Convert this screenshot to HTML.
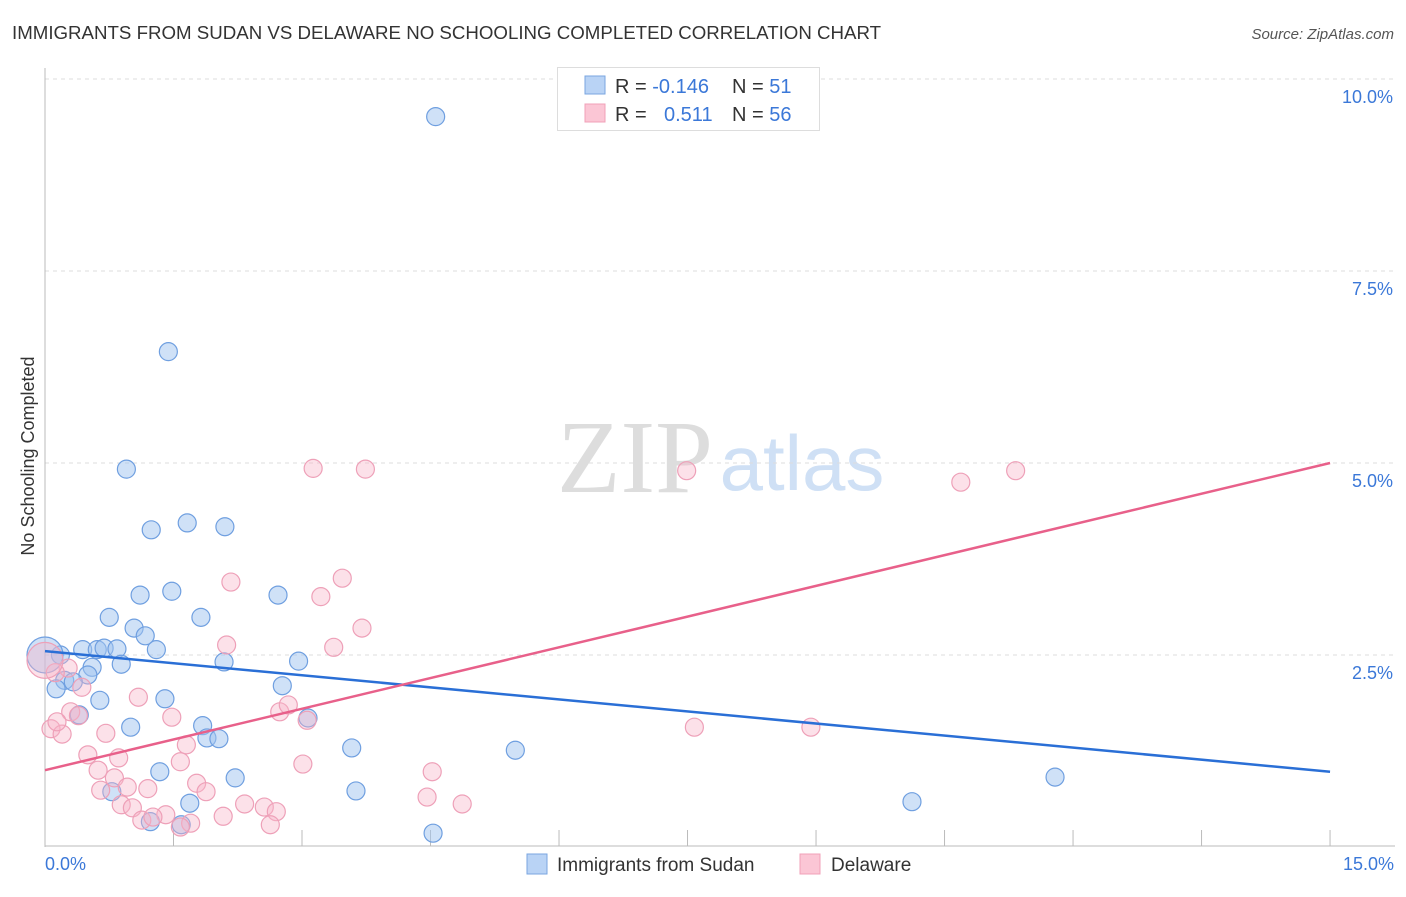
<!DOCTYPE html>
<html><head><meta charset="utf-8"><style>
body{margin:0;background:#fff;font-family:"Liberation Sans",sans-serif}
svg text{font-family:"Liberation Sans",sans-serif}
</style></head><body>
<svg width="1406" height="892" id="chart">
<text x="12" y="39" font-size="18.7" fill="#333">IMMIGRANTS FROM SUDAN VS DELAWARE NO SCHOOLING COMPLETED CORRELATION CHART</text>
<text x="1394" y="39" font-size="15" fill="#555" font-style="italic" text-anchor="end">Source: ZipAtlas.com</text>
<text x="34" y="456" font-size="18" fill="#333" text-anchor="middle" transform="rotate(-90 34 456)">No Schooling Completed</text>
<g>
<text x="635" y="492" font-size="104" fill="#ddd" text-anchor="middle" style="font-family:'Liberation Serif',serif">ZIP</text>
<text x="802" y="490" font-size="78" fill="#cfe0f5" text-anchor="middle">atlas</text>
</g>
<g id="grid"></g><g id="ticks"></g><g id="pts"></g><g id="lines"></g>
<g>
<rect x="557.5" y="67.5" width="262" height="63" fill="#fff" stroke="#ddd"/>
<rect x="585" y="76" width="20" height="18" fill="#b9d3f5" stroke="#7aa6e0"/>
<rect x="585" y="104" width="20" height="18" fill="#fbc6d5" stroke="#f0a0b8"/>
<text x="615" y="93" font-size="20" fill="#333">R = <tspan fill="#3b78d8">-0.146</tspan></text>
<text x="732" y="93" font-size="20" fill="#333">N = <tspan fill="#3b78d8"> 51</tspan></text>
<text x="615" y="121" font-size="20" fill="#333">R = <tspan fill="#3b78d8" x="664">0.511</tspan></text>
<text x="732" y="121" font-size="20" fill="#333">N = <tspan fill="#3b78d8">56</tspan></text>
</g>
<g>
<rect x="527" y="854" width="20" height="20" fill="#b9d3f5" stroke="#7aa6e0"/>
<text x="557" y="871" font-size="19" fill="#333">Immigrants from Sudan</text>
<rect x="800" y="854" width="20" height="20" fill="#fbc6d5" stroke="#f0a0b8"/>
<text x="831" y="871" font-size="19" fill="#333">Delaware</text>
</g>
</svg>
<script>
const xTickLabels=["0.0%","15.0%"];
const yTicks=[2.5,5,7.5,10];
const yTickLabels=["2.5%","5.0%","7.5%","10.0%"];
const blueX=[4.56,1.44,0.95,1.24,1.66,2.10,1.48,1.11,2.72,0.75,1.82,1.04,1.17,0.44,0.61,0.69,0.84,1.30,0.18,0.89,2.09,2.96,0.55,0.50,0.23,0.33,0.13,2.77,1.40,0.64,0.40,1.00,1.84,3.07,1.89,2.03,3.58,5.49,1.34,2.22,11.79,0.78,3.63,1.69,10.12,1.23,1.59,4.53,0.0];
const blueY=[9.51,6.45,4.92,4.13,4.22,4.17,3.33,3.28,3.28,2.99,2.99,2.85,2.75,2.57,2.57,2.59,2.58,2.57,2.50,2.38,2.41,2.42,2.34,2.24,2.17,2.15,2.06,2.10,1.93,1.91,1.72,1.56,1.58,1.68,1.42,1.41,1.29,1.26,0.98,0.90,0.91,0.72,0.73,0.57,0.59,0.33,0.29,0.18,2.50];
const pinkX=[3.13,3.74,7.49,10.69,11.33,3.47,2.17,3.22,3.70,2.12,3.37,0.27,0.43,0.12,1.09,0.30,0.39,0.07,0.20,0.14,1.48,3.06,2.74,2.84,0.71,1.65,0.50,0.86,7.58,8.94,1.58,0.62,3.01,4.52,0.81,1.77,0.65,0.96,1.20,1.88,4.46,4.87,0.89,1.02,2.33,2.56,2.70,1.41,2.08,1.13,1.70,1.58,2.63,1.26,0.0];
const pinkY=[4.93,4.92,4.90,4.75,4.90,3.50,3.45,3.26,2.85,2.63,2.60,2.33,2.08,2.27,1.95,1.76,1.71,1.54,1.47,1.63,1.69,1.65,1.76,1.85,1.48,1.33,1.20,1.16,1.56,1.56,1.11,1.00,1.08,0.98,0.90,0.83,0.74,0.78,0.76,0.72,0.65,0.56,0.55,0.51,0.56,0.52,0.46,0.42,0.40,0.35,0.31,0.26,0.29,0.39,2.43];
const blueTrend=[2.55,0.98];
const pinkTrend=[1.00,5.00];
const trendX=[0,15];
const X=v=>45+v*85.67, Y=v=>847-v*76.8;
const NS="http://www.w3.org/2000/svg";
function mk(tag,attrs,parent){const e=document.createElementNS(NS,tag);for(const k in attrs)e.setAttribute(k,attrs[k]);document.getElementById(parent).appendChild(e);return e;}
yTicks.forEach((t,i)=>{
 const l=mk('line',{x1:45,x2:1395,y1:Y(t),y2:Y(t),stroke:'#ddd','stroke-dasharray':'4,4'},'grid');
 
 
 const tx=mk('text',{x:1393,y:Y(t)+24,'font-size':18,fill:'#3b78d8','text-anchor':'end'},'grid');tx.textContent=yTickLabels[i];
 
 
});
const ax=mk('line',{x1:45,x2:45,y1:68,y2:847,stroke:'#bbb'},'grid');


const bx=mk('line',{x1:45,x2:1395,y1:846,y2:846,stroke:'#bbb'},'grid');


for(let i=1;i<=10;i++){const t=mk('line',{x1:X(i*1.5),x2:X(i*1.5),y1:830,y2:846,stroke:'#bbb'},'ticks');
 
 }
[[0,'start',45],[15,'end',1394]].forEach((d,i)=>{const t=mk('text',{x:d[2],y:870,'font-size':18,fill:'#3b78d8','text-anchor':d[1]},'ticks');t.textContent=xTickLabels[i];
 
 });
function pts(xs,ys,fill,stroke,name){xs.forEach((x,i)=>{const r=(i===xs.length-1)?18:9;
 const c=mk('circle',{cx:X(x),cy:Y(ys[i]),r:r,fill:fill,stroke:stroke,'stroke-width':1.2},'pts');
 
 });}
pts(blueX,blueY,'rgba(160,196,240,0.5)','#6f9fe0','sudan-point');
pts(pinkX,pinkY,'rgba(248,180,200,0.4)','#eea0b8','delaware-point');
const bl=mk('line',{x1:X(trendX[0]),y1:Y(blueTrend[0]),x2:X(trendX[1]),y2:Y(blueTrend[1]),stroke:'#2a6fd6','stroke-width':2.5},'lines');


const pl=mk('line',{x1:X(trendX[0]),y1:Y(pinkTrend[0]),x2:X(trendX[1]),y2:Y(pinkTrend[1]),stroke:'#e8608a','stroke-width':2.5},'lines');


</script>
</body></html>
